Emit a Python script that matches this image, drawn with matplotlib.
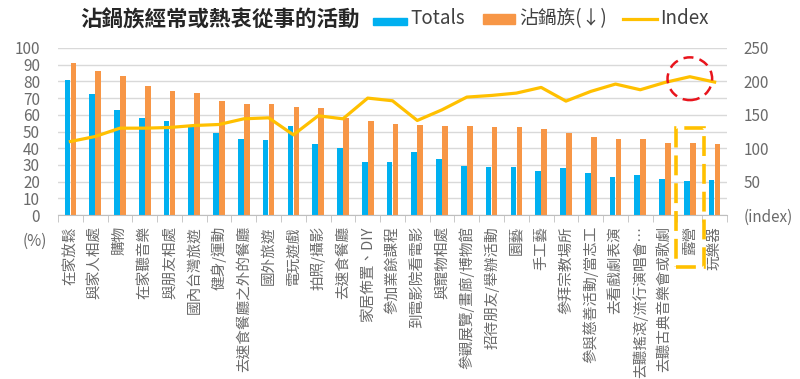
import matplotlib.pyplot as plt
from matplotlib.patches import Rectangle, Ellipse
from matplotlib.lines import Line2D
import numpy as np

plt.rcParams['font.family'] = ['Noto Sans CJK TC', 'DejaVu Sans']

BLUE = "#00B0F0"
ORANGE = "#F79646"
GOLD = "#FFC000"
GRID = "#D9D9D9"
TEXT = "#6A6A6A"

CATEGORIES = [
    "在家放鬆", "與家人相處", "購物", "在家聽音樂", "與朋友相處", "國內台灣旅遊",
    "健身/運動", "去速食餐廳之外的餐廳", "國外旅遊", "電玩遊戲", "拍照/攝影",
    "去速食餐廳", "家居佈置、DIY", "參加業餘課程", "到電影院看電影", "與寵物相處",
    "參觀展覽/畫廊/博物館", "招待朋友/舉辦活動", "園藝", "手工藝", "參拜宗教場所",
    "參與慈善活動/當志工", "去看戲劇表演", "去聽搖滾/流行演唱會…",
    "去聽古典音樂會或歌劇", "露營", "玩樂器",
]
TOTALS = [81, 72.5, 63, 58, 56.5, 53, 49, 45.5, 45, 53, 42.5, 40, 31.5, 31.5,
          38, 33.5, 29.5, 29, 28.5, 26.5, 28, 25, 23, 24, 21.5, 20.5, 21]
NIANGUO = [91, 86, 83, 77, 74, 73, 68, 66.5, 66.5, 64.5, 64, 58, 56, 54.5,
           54, 53, 53, 52.5, 52.5, 51.5, 49, 47, 45.5, 45.5, 43, 43, 42.5]
INDEX = [110, 117.5, 130, 130, 131, 134, 135.5, 144, 145.5, 120, 148.5, 144,
         175, 171, 141.5, 157.5, 176.5, 179, 182.5, 191, 170.5, 185, 196,
         187.5, 198.5, 207, 199]

W, H = 800, 379
fig = plt.figure(figsize=(8, 3.79), dpi=100)
ax = fig.add_axes([58 / W, 1 - 215 / H, 669 / W, 167 / H])

x = np.arange(len(CATEGORIES))
ax.bar(x - 0.12, TOTALS, width=0.23, color=BLUE, zorder=2)
ax.bar(x + 0.12, NIANGUO, width=0.23, color=ORANGE, zorder=2)

ax.set_xlim(-0.5, len(CATEGORIES) - 0.5)
ax.set_ylim(0, 100)
ax.set_yticks(range(0, 101, 10))
ax.yaxis.grid(True, color=GRID, linewidth=1)
ax.set_axisbelow(True)
for s in ["top", "right", "left"]:
    ax.spines[s].set_visible(False)
ax.spines["bottom"].set_color("#BFBFBF")
ax.tick_params(axis="y", length=0, pad=13, labelsize=11, labelcolor=TEXT)

ax.set_xticks(x)
ax.set_xticklabels(CATEGORIES, rotation=90, fontsize=10.5, color=TEXT)
ax.set_xticks(np.arange(-0.5, len(CATEGORIES), 1), minor=True)
ax.tick_params(axis="x", which="major", length=0, pad=8)
ax.tick_params(axis="x", which="minor", length=5, color="#BFBFBF")

ax2 = ax.twinx()
ax2.plot(x, INDEX, color=GOLD, linewidth=2.3, zorder=3)
ax2.set_ylim(0, 250)
ax2.set_yticks(range(0, 251, 50))
ax2.set_yticklabels(["(index)", "50", "100", "150", "200", "250"])
for s in ax2.spines.values():
    s.set_visible(False)
ax2.tick_params(axis="y", length=0, pad=12, labelsize=11, labelcolor=TEXT)

# red dashed circle around the last peak
ax2.add_patch(Ellipse((25, 204), 1.8, 64, fill=False, edgecolor="#E8141C",
                      linewidth=1.8, linestyle=(0, (4, 2.5)), zorder=4))

# yellow dashed box around 露營
fig.add_artist(Rectangle((676 / W, 1 - 267 / H), 28 / W, 139 / H,
                         transform=fig.transFigure, fill=False, edgecolor=GOLD,
                         linewidth=2.6, linestyle=(0, (5.5, 2.2)), zorder=5))

fig.text(47 / W, 1 - 241 / H, "(%)", ha="right", va="center", fontsize=11, color=TEXT)

# title and legend
fig.text(80 / W, 1 - 20 / H, "沾鍋族經常或熱衷從事的活動", ha="left", va="center",
         fontsize=15.5, fontweight="bold", color="#262626")
fig.add_artist(Rectangle((373 / W, 1 - 25 / H), 34 / W, 7 / H,
                         transform=fig.transFigure, color=BLUE))
fig.text(410 / W, 1 - 19 / H, "Totals", ha="left", va="center", fontsize=13.5, color="#404040")
fig.add_artist(Rectangle((483 / W, 1 - 24 / H), 32 / W, 10 / H,
                         transform=fig.transFigure, color=ORANGE))
fig.text(519 / W, 1 - 19 / H, "沾鍋族(↓)", ha="left", va="center", fontsize=13.5, color="#404040")
fig.add_artist(Line2D([623 / W, 657 / W], [1 - 19 / H, 1 - 19 / H],
                      transform=fig.transFigure, color=GOLD, linewidth=2.3))
fig.text(660 / W, 1 - 19 / H, "Index", ha="left", va="center", fontsize=13.5, color="#404040")

fig.savefig("out.png", dpi=100)
